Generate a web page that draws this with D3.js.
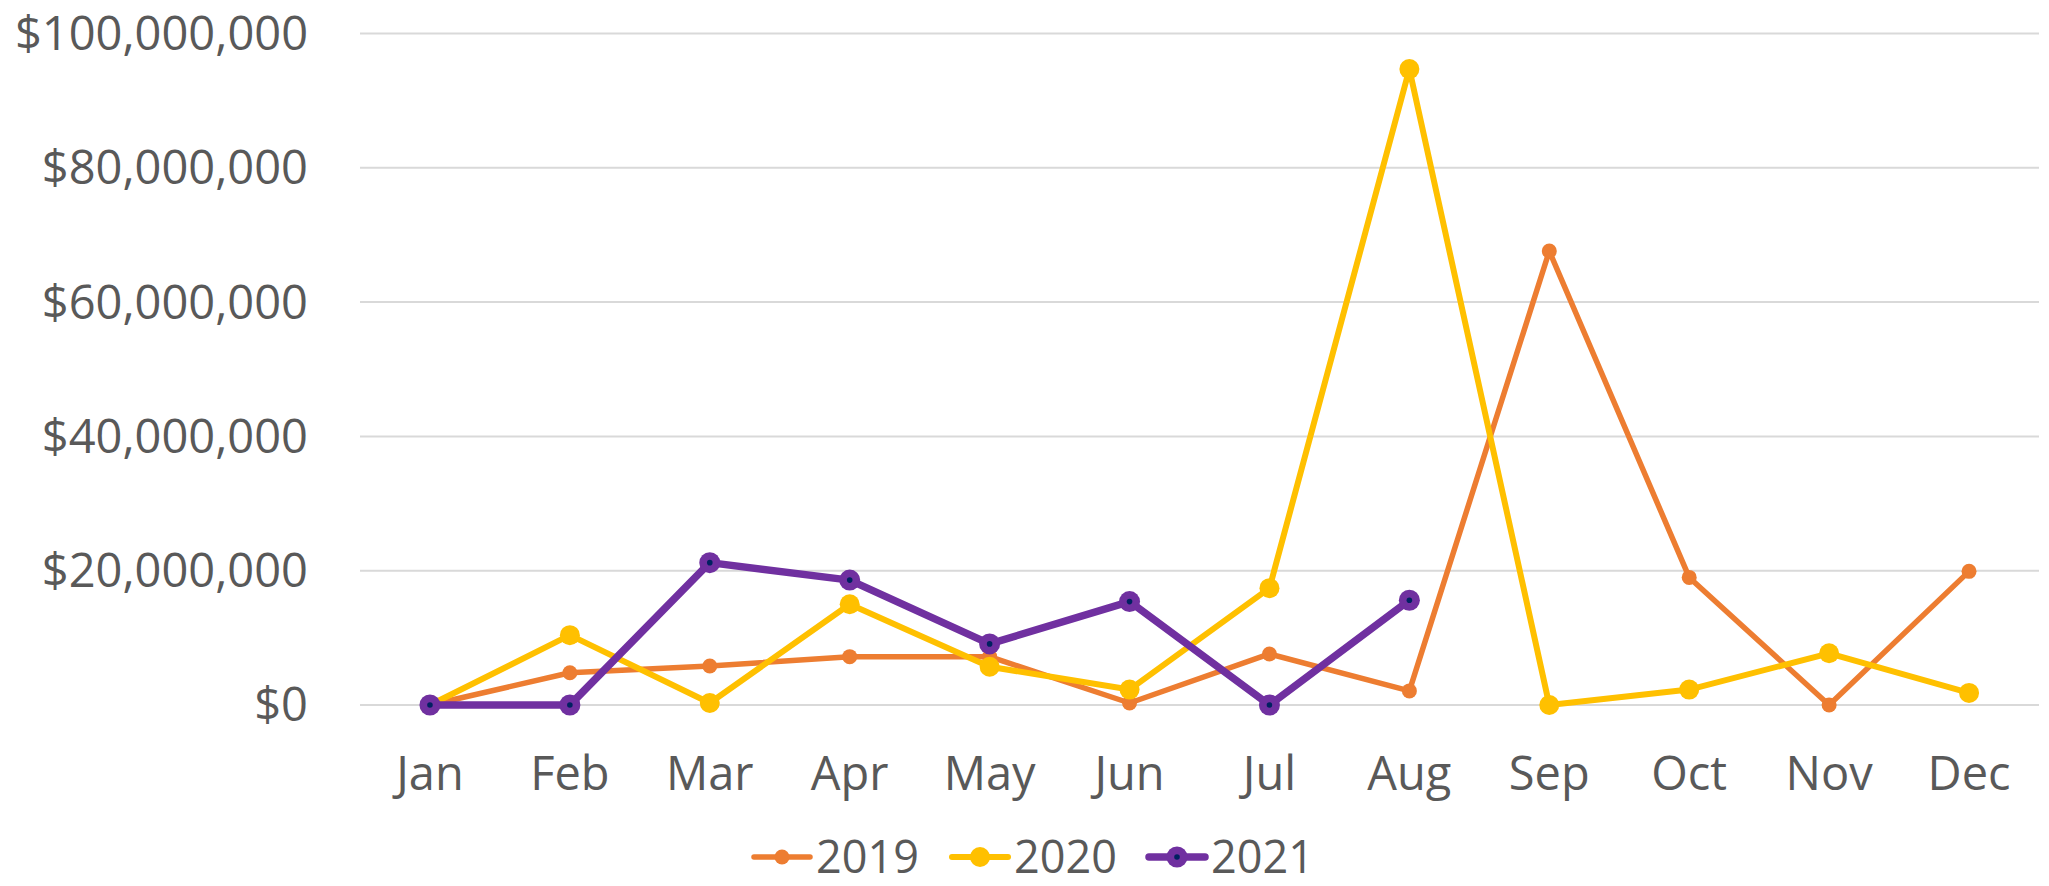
<!DOCTYPE html>
<html>
<head>
<meta charset="utf-8">
<script src="https://cdn.jsdelivr.net/npm/d3@7"></script>
<style>
  body { margin: 0; background: #fff; }
  svg { display: block; }
  text { font-family: "Open Sans", sans-serif; fill: #595959; }
</style>
</head>
<body>
<svg id="chart" width="2049" height="886"></svg>
<script>
// Data (USD)
const months = ['Jan', 'Feb', 'Mar', 'Apr', 'May', 'Jun', 'Jul', 'Aug', 'Sep', 'Oct', 'Nov', 'Dec'];
const yTicks = [0, 20000000, 40000000, 60000000, 80000000, 100000000];

const values2019 = [0, 4800000, 5800000, 7200000, 7200000, 300000, 7600000, 2100000, 67600000, 19000000, 0, 19900000];
const values2020 = [0, 10400000, 300000, 15000000, 5700000, 2300000, 17400000, 94700000, 0, 2300000, 7700000, 1800000];
const values2021 = [0, 0, 21200000, 18600000, 9100000, 15400000, 0, 15600000];

const seriesNames = ['2019', '2020', '2021'];

// Style per series
const styles = {
  '2019': { color: '#ED7D31', width: 5.5, r: 7.5, dot: null },
  '2020': { color: '#FFC000', width: 6, r: 10, dot: null },
  '2021': { color: '#7030A0', width: 7.5, r: 10.5, dot: '#002060' }
};

const series = [
  { name: '2019', values: values2019 },
  { name: '2020', values: values2020 },
  { name: '2021', values: values2021 }
];

const svg = d3.select('#chart');
const plot = { left: 360, right: 2039, top: 0, bottom: 705 };

const x = d3.scaleBand()
  .domain(months)
  .range([plot.left, plot.right]);

const y = d3.scaleLinear()
  .domain([0, 100000000])
  .range([plot.bottom, plot.bottom - 5 * 134.3]);

const fmt = v => '$' + d3.format(',')(v);

// Gridlines
svg.append('g')
  .selectAll('line')
  .data(yTicks)
  .enter()
  .append('line')
  .attr('x1', plot.left)
  .attr('x2', plot.right)
  .attr('y1', d => y(d))
  .attr('y2', d => y(d))
  .attr('stroke', '#D9D9D9')
  .attr('stroke-width', 2);

// Y axis labels
svg.append('g')
  .selectAll('text')
  .data(yTicks)
  .enter()
  .append('text')
  .attr('x', 308)
  .attr('y', d => y(d))
  .attr('dy', '0.35em')
  .attr('text-anchor', 'end')
  .style('font-size', '47px')
  .text(fmt);

// X axis labels
svg.append('g')
  .selectAll('text')
  .data(months)
  .enter()
  .append('text')
  .attr('x', d => x(d) + x.bandwidth() / 2)
  .attr('y', 790)
  .attr('text-anchor', 'middle')
  .style('font-size', '47px')
  .text(d => d);

const line = d3.line()
  .x((d, i) => x(months[i]) + x.bandwidth() / 2)
  .y(d => y(d));

// Lines and markers
series.forEach(s => {
  const st = styles[s.name];
  const g = svg.append('g');

  g.append('path')
    .datum(s.values)
    .attr('d', line)
    .attr('fill', 'none')
    .attr('stroke', st.color)
    .attr('stroke-width', st.width)
    .attr('stroke-linejoin', 'round');

  g.selectAll('circle.m')
    .data(s.values)
    .enter()
    .append('circle')
    .attr('class', 'm')
    .attr('cx', (d, i) => x(months[i]) + x.bandwidth() / 2)
    .attr('cy', d => y(d))
    .attr('r', st.r)
    .attr('fill', st.color);

  if (st.dot) {
    g.selectAll('circle.d')
      .data(s.values)
      .enter()
      .append('circle')
      .attr('class', 'd')
      .attr('cx', (d, i) => x(months[i]) + x.bandwidth() / 2)
      .attr('cy', d => y(d))
      .attr('r', 2.8)
      .attr('fill', st.dot);
  }
});

// Legend
const legendX = [754, 952, 1149];
const legend = svg.append('g')
  .selectAll('g')
  .data(seriesNames)
  .enter()
  .append('g')
  .attr('transform', (d, i) => `translate(${legendX[i]},857)`);

legend.append('line')
  .attr('x1', 0)
  .attr('x2', 56)
  .attr('stroke', d => styles[d].color)
  .attr('stroke-width', d => styles[d].width)
  .attr('stroke-linecap', 'round');

legend.append('circle')
  .attr('cx', 28)
  .attr('r', d => styles[d].r)
  .attr('fill', d => styles[d].color);

legend.filter(d => styles[d].dot)
  .append('circle')
  .attr('cx', 28)
  .attr('r', 2.8)
  .attr('fill', d => styles[d].dot);

legend.append('text')
  .attr('x', 62)
  .attr('y', 0)
  .attr('dy', '0.35em')
  .style('font-size', '45px')
  .text(d => d);
</script>
</body>
</html>
